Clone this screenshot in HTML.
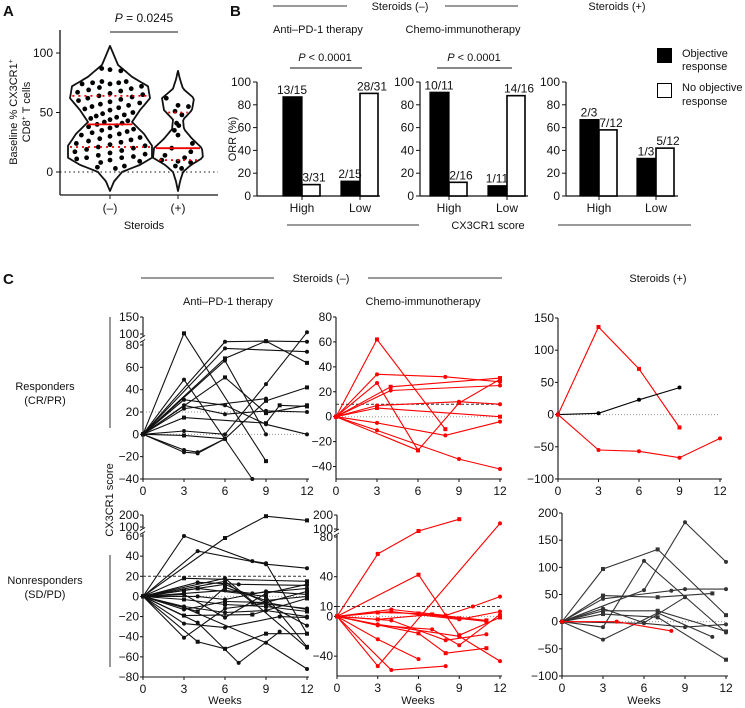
<!DOCTYPE html>
<html><head><meta charset="utf-8"><style>
html,body{margin:0;padding:0;background:#fff;}
svg{display:block;font-family:"Liberation Sans",Arial,sans-serif;}
</style></head><body>
<svg id="fig" width="745" height="708" viewBox="0 0 745 708" xmlns="http://www.w3.org/2000/svg">
<g id="static" font-size="11" fill="#111">
  <text x="3" y="16" font-size="15" font-weight="bold">A</text>
  <text x="230" y="16" font-size="15" font-weight="bold">B</text>
  <text x="3" y="284" font-size="15" font-weight="bold">C</text>
  <text x="144" y="22" text-anchor="middle" font-size="12"><tspan font-style="italic">P</tspan> = 0.0245</text>
  <line x1="110" y1="32" x2="178" y2="32" stroke="#111"/>
  <text transform="translate(17,112) rotate(-90)" text-anchor="middle">Baseline % CX3CR1<tspan font-size="7" dy="-4">+</tspan></text>
  <text transform="translate(30,112) rotate(-90)" text-anchor="middle">CD8<tspan font-size="7" dy="-4">+</tspan><tspan dy="4"> T cells</tspan></text>
  <text x="110" y="212" text-anchor="middle" font-size="12">(–)</text>
  <text x="178" y="212" text-anchor="middle" font-size="12">(+)</text>
  <text x="144" y="229" text-anchor="middle">Steroids</text>
  <line x1="273" y1="6" x2="347" y2="6" stroke="#333"/>
  <text x="400" y="10" text-anchor="middle">Steroids (–)</text>
  <line x1="445" y1="6" x2="518" y2="6" stroke="#333"/>
  <text x="617" y="10" text-anchor="middle">Steroids (+)</text>
  <text x="318" y="33" text-anchor="middle">Anti–PD-1 therapy</text>
  <text x="463" y="33" text-anchor="middle">Chemo-immunotherapy</text>
  <text x="325" y="61" text-anchor="middle"><tspan font-style="italic">P</tspan> &lt; 0.0001</text>
  <line x1="290" y1="68" x2="362" y2="68" stroke="#111"/>
  <text x="474" y="61" text-anchor="middle"><tspan font-style="italic">P</tspan> &lt; 0.0001</text>
  <line x1="437" y1="68" x2="512" y2="68" stroke="#111"/>
  <text transform="translate(236,139) rotate(-90)" text-anchor="middle">ORR (%)</text>
  <rect x="657" y="48" width="15" height="15" fill="#000"/>
  <text x="682" y="57">Objective</text>
  <text x="682" y="70">response</text>
  <rect x="657.5" y="83.5" width="14" height="14" fill="#fff" stroke="#000"/>
  <text x="682" y="91">No objective</text>
  <text x="682" y="105">response</text>
  <line x1="287" y1="225" x2="419" y2="225" stroke="#333"/>
  <text x="488" y="229" text-anchor="middle">CX3CR1 score</text>
  <line x1="558" y1="225" x2="691" y2="225" stroke="#333"/>
  <line x1="141" y1="278" x2="274" y2="278" stroke="#333"/>
  <text x="321" y="282" text-anchor="middle">Steroids (–)</text>
  <line x1="368" y1="278" x2="502" y2="278" stroke="#333"/>
  <text x="658" y="282" text-anchor="middle">Steroids (+)</text>
  <text x="228" y="305" text-anchor="middle">Anti–PD-1 therapy</text>
  <text x="423" y="305" text-anchor="middle">Chemo-immunotherapy</text>
  <text x="45" y="390" text-anchor="middle">Responders</text>
  <text x="45" y="404" text-anchor="middle">(CR/PR)</text>
  <line x1="110" y1="317" x2="110" y2="428" stroke="#333"/>
  <text x="45" y="584" text-anchor="middle">Nonresponders</text>
  <text x="45" y="598" text-anchor="middle">(SD/PD)</text>
  <line x1="110" y1="555" x2="110" y2="667" stroke="#333"/>
  <text transform="translate(113,500) rotate(-90)" text-anchor="middle">CX3CR1 score</text>
  <text x="225" y="704" text-anchor="middle">Weeks</text>
  <text x="418" y="704" text-anchor="middle">Weeks</text>
  <text x="644" y="704" text-anchor="middle">Weeks</text>
</g>
</svg>
<script>
// ---------- Panel A data ----------
const aTicks = [0, 50, 100];
const aNegValues = [87,86,85,76,76,75,75,74,74,72,71,70,69,68,67,66,65,64,63,62,61,60,59,58,57,56,55,54,53,52,50,49,48,47,46,45,44,43,42,41,40,39,38,37,36,35,34,33,32,31,30,29,28,27,26,25,24,23,22,21,20,19,18,17,16,15,14,13,12,12,11,10,9,8,5,4,3];
const aPosValues = [62,56,55,51,48,41,39,35,31,24,20,17,14,12,10,9,8,5,3];
const aNegQuart = [21, 40, 64];
const aPosQuart = [10, 20, 50];
// ---------- Panel B data ----------
const bCats = ['High', 'Low'];
const bTicks = [0, 20, 40, 60, 80, 100];
const b1Obj = [87, 13], b1No = [10, 90];
const b1ObjLbl = ['13/15', '2/15'], b1NoLbl = ['3/31', '28/31'];
const b2Obj = [91, 9], b2No = [12, 88];
const b2ObjLbl = ['10/11', '1/11'], b2NoLbl = ['2/16', '14/16'];
const b3Obj = [67, 33], b3No = [58, 42];
const b3ObjLbl = ['2/3', '1/3'], b3NoLbl = ['7/12', '5/12'];
// ---------- Panel C data ----------
const weekTicks = [0, 3, 6, 9, 12];
const tlTicks = [150,100,80,60,40,20,0,-20,-40];
const tmTicks = [80,60,40,20,0,-20,-40];
const trTicks = [150,100,50,0,-50,-100];
const blTicks = [200,100,60,40,20,0,-20,-40,-60,-80];
const bmTicks = [200,100,80,40,10,0,-40];
const brTicks = [200,150,100,50,0,-50,-100];

const tlWeeks = [[0,3,9],[0,6,9,12],[0,6,12],[0,6,9,12],[0,6,9],[0,3,8],[0,6,9,12],[0,3,6,9,12],[0,3,6,9,12],[0,3,9,10,12],[0,3,6,9,12],[0,3,9],[0,3,6,9,12],[0,3,4,6],[0,3,4,6]];
const tlVals  = [[0,102,-24],[0,86,87,86],[0,77,74],[0,68,87,64],[0,66,0],[0,49,-40],[0,51,19,26],[0,31,26,9,0],[0,26,18,21,20],[0,15,10,26,25],[0,3,0,45,105],[0,23,32],[0,-1,-4,30,42],[0,-14,-16,-4],[0,-16,-17,-4]];

const tmWeeks = [[0,3,8],[0,3,8,12],[0,3,6],[0,4,12],[0,4,12],[0,3,9,12],[0,3,12],[0,3,9,12],[0,3,8,12],[0,6,9,12]];
const tmVals  = [[0,62,-10],[0,34,32,28],[0,27,-27],[0,24,31],[0,21,25],[0,9,12,10],[0,7,0],[0,-11,-34,-42],[0,-5,-15,-4],[0,-27,11,30]];

const trWeeks = [[0,3,6,9],[0,3,6,9],[0,3,6,9,12]];
const trVals  = [[0,136,71,-20],[0,2,23,42],[0,-55,-57,-67,-37]];
const trColors = ['red','black','red'];

const blWeeks = [[0,6,9,12],[0,3,8,9,12],[0,4,9,12],[0,3,12],[0,4,7,12],[0,6,12],[0,3,6,9,12],[0,3,6,8,12],[0,4,6,9,12],[0,3,6,9,12],[0,3,6,9,12],[0,3,6,9,12],[0,3,8,12],[0,3,6,10,12],[0,3,6,9,12],[0,4,6,9,12],[0,4,7,10],[0,3,9,12],[0,4,9,12],[0,3,6,9,12],[0,6,8,12],[0,4,6,9,12]];
const blVals  = [[0,58,190,155],[0,60,35,33,-37],[0,45,32,28],[0,18,15],[0,14,12,11],[0,18,-51],[0,6,12,-6,5],[0,3,6,3,8],[0,0,-3,5,2],[0,-3,-8,-10,-15],[0,-10,-16,-14,-20],[0,-13,-5,-6,-13],[0,-19,-18,-2],[0,-27,-31,-20,-21],[0,-41,-12,-7,-29],[0,-45,-52,-37,-37],[0,-26,-66,-35],[0,-11,-46,-72],[0,8,0,-50],[0,2,-21,3,12],[0,15,-6,-12],[0,-15,9,-4,0]];

const bmWeeks = [[0,3,6,9],[0,3,12],[0,4,8],[0,6,9,12],[0,3,6],[0,4,8,10,12],[0,3,6,9,11],[0,3,7,9,12],[0,4,8,11],[0,6,8,11],[0,3,9,12],[0,4,9,12],[0,3,7,11]];
const bmVals  = [[0,63,95,170],[0,-50,140],[0,-54,-50],[0,42,-19,-1],[0,-23,-43],[0,7,1,10,20],[0,4,3,-2,-5],[0,-9,-13,-29,2],[0,-4,-24,-18],[0,-17,-37,-32],[0,-8,-20,-45],[0,5,-3,5],[0,-3,2,-4]];

const brWeeks = [[0,3,7,12],[0,6,9,12],[0,3,6,12],[0,3,7,11],[0,3,8,9,12],[0,3,6,9],[0,3,7,12],[0,3,7,11],[0,6,9,12],[0,3,7,12],[0,4,8]];
const brVals  = [[0,97,133,12],[0,58,183,110],[0,-10,112,-20],[0,48,45,52],[0,42,57,60,60],[0,24,-2,45],[0,14,8,-70],[0,-33,16,-28],[0,-3,-10,-5],[0,20,20,-18],[0,0,-17]];
const brColors = ['#333','#333','#333','#333','#333','#333','#333','#333','#333','#333','red'];

const NS = 'http://www.w3.org/2000/svg';
const svg = document.getElementById('fig');
function mk(tag, attrs, parent) {
  const e = document.createElementNS(NS, tag);
  for (const k in attrs) e.setAttribute(k, attrs[k]);
  (parent || svg).appendChild(e);
  return e;
}
function txt(x, y, s, anchor, parent, size) {
  const t = mk('text', {x: x, y: y, 'text-anchor': anchor || 'middle', 'font-size': size || 11, fill: '#111'}, parent);
  t.textContent = s;
  return t;
}

// ---------- Panel A ----------
const aY = v => 172 - v * 1.19;
const gA = mk('g', {});


let e = mk('line', {x1: 60, y1: 30, x2: 60, y2: 195, stroke: '#111', 'stroke-width': 1.3}, gA);


e = mk('line', {x1: 60, y1: 195, x2: 218, y2: 195, stroke: '#111', 'stroke-width': 1.3}, gA);


e = mk('line', {x1: 60, y1: aY(0), x2: 218, y2: aY(0), stroke: '#111', 'stroke-dasharray': '1.5,3'}, gA);


aTicks.forEach(v => {
  mk('line', {x1: 56, y1: aY(v), x2: 60, y2: aY(v), stroke: '#111'}, gA);
  const t = txt(53, aY(v) + 4, String(v), 'end', gA, 12);
  
  
});
[110, 178].forEach(x => mk('line', {x1: x, y1: 195, x2: x, y2: 199, stroke: '#111'}, gA));
const profNeg = [[106,0],[100,3],[90,8],[80,22],[72,38],[62,40],[52,30],[42,22],[32,34],[22,42],[12,42],[6,30],[0,12],[-8,4],[-16,0]];
const profPos = [[85,0],[78,2],[70,5],[62,16],[52,14],[44,5],[36,6],[28,14],[20,24],[12,25],[6,13],[0,5],[-8,2],[-16,0]];
function hw(prof, v) {
  for (let i = 0; i < prof.length - 1; i++) {
    const a = prof[i], b = prof[i + 1];
    if (v <= a[0] && v >= b[0]) return a[1] + (b[1] - a[1]) * (a[0] - v) / (a[0] - b[0]);
  }
  return 0;
}
function violinPath(prof, cx) {
  const pts = [];
  for (let v = prof[0][0]; v >= prof[prof.length - 1][0]; v -= 2) pts.push([cx + hw(prof, v), aY(v)]);
  for (let v = prof[prof.length - 1][0]; v <= prof[0][0]; v += 2) pts.push([cx - hw(prof, v), aY(v)]);
  return 'M' + pts.map(p => p[0].toFixed(1) + ',' + p[1].toFixed(1)).join(' L') + 'Z';
}
e = mk('path', {d: violinPath(profNeg, 110), fill: 'none', stroke: '#111', 'stroke-width': 1.8, 'stroke-linejoin': 'round'}, gA);


e = mk('path', {d: violinPath(profPos, 178), fill: 'none', stroke: '#111', 'stroke-width': 1.8, 'stroke-linejoin': 'round'}, gA);


function dots(vals, prof, cx, name) {
  vals.forEach((v, i) => {
    const slot = ((i * 3) % 7) - 3;
    const x = cx + slot / 3 * Math.max(hw(prof, v) - 3, 0) * 0.9;
    const c = mk('circle', {cx: x, cy: aY(v), r: 2.4, fill: '#000'}, gA);
    
    
  });
}
dots(aNegValues, profNeg, 110, 'dot-steroids-neg');
dots(aPosValues, profPos, 178, 'dot-steroids-pos');
function quart(q, prof, cx, name) {
  q.forEach((v, i) => {
    const w = hw(prof, v) - 2;
    const l = mk('line', {x1: cx - w, y1: aY(v), x2: cx + w, y2: aY(v), stroke: '#e00', 'stroke-width': 1.8, 'stroke-dasharray': i === 1 ? 'none' : '2,4'}, gA);
    
    
  });
}
quart(aNegQuart, profNeg, 110, 'quartile-line-neg');
quart(aPosQuart, profPos, 178, 'quartile-line-pos');

// ---------- Panel B ----------
const bY = v => 196 - v * 1.14;
function barPanel(ax, xEnd, centers, obj, no, objL, noL, name) {
  const g = mk('g', {});
  
  
  let l = mk('line', {x1: ax, y1: bY(100), x2: ax, y2: 196, stroke: '#111', 'stroke-width': 1.2}, g);
  
  
  l = mk('line', {x1: ax, y1: 196, x2: xEnd, y2: 196, stroke: '#111', 'stroke-width': 1.2}, g);
  
  
  bTicks.forEach(v => {
    mk('line', {x1: ax - 4, y1: bY(v), x2: ax, y2: bY(v), stroke: '#111'}, g);
    const t = txt(ax - 6, bY(v) + 4, String(v), 'end', g, 12);
    
    
  });
  bCats.forEach((c, i) => {
    const cx = centers[i];
    mk('line', {x1: cx, y1: 196, x2: cx, y2: 200, stroke: '#111'}, g);
    const t = txt(cx, 212, c, 'middle', g, 12);
    
    
    const r1 = mk('rect', {x: cx - 19, y: bY(obj[i]), width: 19, height: 196 - bY(obj[i]), fill: '#000', stroke: '#000', 'stroke-width': 1.2}, g);
    
    
    const r2 = mk('rect', {x: cx, y: bY(no[i]), width: 18, height: 196 - bY(no[i]), fill: '#fff', stroke: '#000', 'stroke-width': 1.6}, g);
    
    
    const t1 = txt(cx - 10, bY(obj[i]) - 3, objL[i], 'middle', g, 12);
    
    
    const t2 = txt(cx + 12, bY(no[i]) - 3, noL[i], 'middle', g, 12);
    
    
  });
}
barPanel(257, 380, [302, 360], b1Obj, b1No, b1ObjLbl, b1NoLbl, 'bar-chart-anti-pd1');
barPanel(420, 528, [449, 507], b2Obj, b2No, b2ObjLbl, b2NoLbl, 'bar-chart-chemo');
barPanel(566, 678, [599, 656], b3Obj, b3No, b3ObjLbl, b3NoLbl, 'bar-chart-steroids-pos');

// ---------- Panel C ----------
function mkY(anchors) {
  return v => {
    for (let i = 0; i < anchors.length - 1; i++) {
      const a = anchors[i], b = anchors[i + 1];
      if (v <= b[0] || i === anchors.length - 2) return a[1] + (v - a[0]) * (b[1] - a[1]) / (b[0] - a[0]);
    }
  };
}
function linePanel(cfg) {
  const g = mk('g', {});
  
  
  const X = w => cfg.x0 + (cfg.x1 - cfg.x0) * w / 12;
  const Y = mkY(cfg.anchors);
  const top = Y(cfg.ticks[0]), bot = cfg.bottom;
  let l = mk('line', {x1: cfg.x0, y1: top, x2: cfg.x0, y2: bot, stroke: '#111', 'stroke-width': 1.1}, g);
  
  
  l = mk('line', {x1: cfg.x0, y1: bot, x2: cfg.x1 + 2, y2: bot, stroke: '#111', 'stroke-width': 1.1}, g);
  
  
  if (cfg.brk !== undefined) {
    const yb = Y(cfg.brk);
    mk('rect', {x: cfg.x0 - 3, y: yb - 3, width: 6, height: 5, fill: '#fff'}, g);
    mk('path', {d: `M${cfg.x0-3},${yb-1} l5,-3 M${cfg.x0-3},${yb+3} l5,-3`, stroke: '#111', fill: 'none'}, g);
  }
  cfg.ticks.forEach(v => {
    mk('line', {x1: cfg.x0 - 3, y1: Y(v), x2: cfg.x0, y2: Y(v), stroke: '#111'}, g);
    const t = txt(cfg.x0 - 4, Y(v) + 4, v < 0 ? '−' + (-v) : String(v), 'end', g, 12);
    
    
  });
  weekTicks.forEach(w => {
    mk('line', {x1: X(w), y1: bot, x2: X(w), y2: bot + 3, stroke: '#111'}, g);
    const t = txt(X(w), bot + 16, String(w), 'middle', g, 12);
    
    
  });
  (cfg.refs || []).forEach(r => {
    const rl = mk('line', {x1: cfg.x0, y1: Y(r[0]), x2: cfg.x1, y2: Y(r[0]), stroke: r[1] ? '#333' : '#999', 'stroke-dasharray': r[1] ? '3,2' : '1,2'}, g);
    
    
  });
  cfg.weeks.forEach((ws, i) => {
    const vs = cfg.vals[i];
    const col = cfg.colors ? cfg.colors[i] : cfg.color;
    const pts = ws.map((w, j) => X(w).toFixed(1) + ',' + Y(vs[j]).toFixed(1)).join(' ');
    const pl = mk('polyline', {points: pts, fill: 'none', stroke: col, 'stroke-width': 1.1}, g);
    
    
    ws.forEach((w, j) => {
      const m = (i % 3 === 0) ? mk('rect', {x: X(w) - 2, y: Y(vs[j]) - 2, width: 4, height: 4, fill: col}, g)
                              : mk('circle', {cx: X(w), cy: Y(vs[j]), r: 2, fill: col}, g);
      
      
    });
  });
}
linePanel({name: 'line-chart-responders-anti-pd1', x0: 143, x1: 307, bottom: 479, anchors: [[-40,479],[80,345],[100,334],[150,317]], ticks: tlTicks, brk: 90, refs: [[20,0],[0,0]], weeks: tlWeeks, vals: tlVals, color: '#111'});
linePanel({name: 'line-chart-responders-chemo', x0: 336, x1: 500, bottom: 479, anchors: [[-50,479],[80,317]], ticks: tmTicks, refs: [[10,1],[0,0]], weeks: tmWeeks, vals: tmVals, color: '#f00'});
linePanel({name: 'line-chart-responders-steroids-pos', x0: 558, x1: 720, bottom: 479, anchors: [[-100,479],[150,318]], ticks: trTicks, refs: [[0,0]], weeks: trWeeks, vals: trVals, colors: trColors});
linePanel({name: 'line-chart-nonresponders-anti-pd1', x0: 143, x1: 307, bottom: 677, anchors: [[-80,677],[60,536],[100,527],[200,515]], ticks: blTicks, brk: 80, refs: [[20,1],[0,0]], weeks: blWeeks, vals: blVals, color: '#111'});
linePanel({name: 'line-chart-nonresponders-chemo', x0: 337, x1: 500, bottom: 676, anchors: [[-60,676],[80,537],[100,529],[200,515]], ticks: bmTicks, brk: 90, refs: [[10,1],[0,0]], weeks: bmWeeks, vals: bmVals, color: '#f00'});
linePanel({name: 'line-chart-nonresponders-steroids-pos', x0: 562, x1: 726, bottom: 676, anchors: [[-100,676],[200,513]], ticks: brTicks, refs: [[0,0]], weeks: brWeeks, vals: brVals, colors: brColors});
</script>
</body></html>
